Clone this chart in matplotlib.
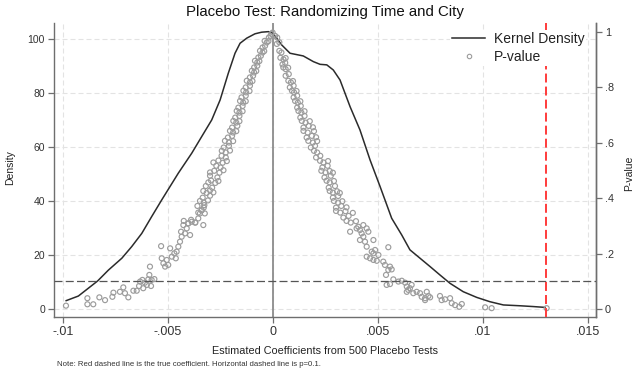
import numpy as np
import matplotlib.pyplot as plt
from matplotlib.lines import Line2D

plt.rcParams['font.family'] = ['Liberation Sans', 'DejaVu Sans']

# kernel density of the placebo coefficients
kd_x = [-0.00985, -0.00927, -0.00835, -0.00784, -0.00720, -0.00673, -0.00625,
        -0.00578, -0.00530, -0.00451, -0.00387, -0.00340, -0.00292, -0.00252,
        -0.00213, -0.00181, -0.00157, -0.00125, -0.00086, -0.00054, -0.00022,
        0.0, 0.00041, 0.00081, 0.00144, 0.00192, 0.00224, 0.00256, 0.00287,
        0.00319, 0.00367, 0.00414, 0.00462, 0.00510, 0.00565, 0.00613,
        0.00652, 0.00700, 0.00748, 0.00795, 0.00843, 0.00906, 0.00970,
        0.01033, 0.01097, 0.01176, 0.01240, 0.01295]
kd_y = [3.1, 4.8, 10.4, 14.4, 18.8, 23.1, 28.0,
        34.2, 40.4, 50.3, 57.7, 63.8, 70.0, 77.4,
        87.3, 94.7, 98.4, 100.3, 101.9, 102.5, 102.7,
        102.1, 97.8, 94.7, 93.7, 91.6, 90.6, 90.4, 88.5,
        84.8, 74.9, 66.3, 55.2, 45.3, 33.6, 27.4,
        21.9, 18.8, 15.7, 12.6, 9.5, 6.4, 4.3,
        2.7, 1.5, 1.2, 0.9, 0.6]

# p-values, left tail
ll_x = [-0.00986, -0.00884, -0.00884, -0.00856, -0.00827, -0.00800, -0.00765,
        -0.00760, -0.00729, -0.00713, -0.00705, -0.00689, -0.00665, -0.00649,
        -0.00638, -0.00633, -0.00622, -0.00618, -0.00610, -0.00601, -0.00594,
        -0.00589, -0.00581, -0.00578, -0.00586, -0.00565, -0.00533, -0.00530,
        -0.00522, -0.00514, -0.00506, -0.00499, -0.00490, -0.00482, -0.00470,
        -0.00463, -0.00459, -0.00451, -0.00443, -0.00435, -0.00438, -0.00427,
        -0.00419, -0.00411, -0.00403, -0.00395, -0.00387, -0.00371, -0.00356,
        -0.00348, -0.00340, -0.00332, -0.00327]
ll_p = [0.012, 0.039, 0.017, 0.017, 0.042, 0.032, 0.044,
        0.059, 0.062, 0.078, 0.057, 0.042, 0.066, 0.066,
        0.083, 0.099, 0.105, 0.075, 0.095, 0.087, 0.107,
        0.123, 0.083, 0.105, 0.153, 0.108, 0.227, 0.183,
        0.165, 0.153, 0.177, 0.159, 0.219, 0.189, 0.201,
        0.183, 0.207, 0.225, 0.243, 0.261, 0.279, 0.303,
        0.273, 0.291, 0.309, 0.267, 0.315, 0.312, 0.327,
        0.345, 0.357, 0.303, 0.375]

# p-values, left branch near zero
ul_x = [-0.00425, -0.00405, -0.00390, -0.00370, -0.00356, -0.00340, -0.00325,
        -0.00360, -0.00330, -0.00348, -0.00330, -0.00310, -0.00335, -0.00300,
        -0.00332, -0.00316, -0.00300, -0.00284, -0.00320, -0.00290,
        -0.00308, -0.00295, -0.00275, -0.00260, -0.00300, -0.00265,
        -0.00300, -0.00280, -0.00255, -0.00236, -0.00270, -0.00250,
        -0.00284, -0.00260, -0.00240, -0.00220, -0.00245, -0.00225,
        -0.00244, -0.00225, -0.00205, -0.00235, -0.00210,
        -0.00229, -0.00210, -0.00190, -0.00215, -0.00195,
        -0.00205, -0.00190, -0.00175, -0.00195, -0.00170,
        -0.00189, -0.00175, -0.00160, -0.00180, -0.00160,
        -0.00173, -0.00160, -0.00145, -0.00165, -0.00145,
        -0.00157, -0.00142, -0.00130, -0.00150, -0.00130,
        -0.00141, -0.00128, -0.00112, -0.00130, -0.00110,
        -0.00125, -0.00110, -0.00098, -0.00110, -0.00095,
        -0.00101, -0.00090, -0.00080, -0.00090, -0.00075,
        -0.00086, -0.00075, -0.00065, -0.00070, -0.00058,
        -0.00062, -0.00050, -0.00042, -0.00050, -0.00038,
        -0.00040, -0.00030, -0.00022, -0.00020, -0.00012,
        -0.00008, -0.00002]
ul_p = [0.318, 0.309, 0.322, 0.312, 0.348, 0.356, 0.345,
        0.372, 0.366, 0.390, 0.384, 0.392, 0.402, 0.409,
        0.426, 0.419, 0.428, 0.421, 0.444, 0.438,
        0.457, 0.464, 0.455, 0.462, 0.481, 0.475,
        0.493, 0.499, 0.492, 0.501, 0.517, 0.511,
        0.529, 0.536, 0.528, 0.534, 0.553, 0.547,
        0.571, 0.565, 0.572, 0.583, 0.589,
        0.607, 0.601, 0.606, 0.619, 0.625,
        0.643, 0.637, 0.642, 0.655, 0.661,
        0.679, 0.673, 0.678, 0.691, 0.697,
        0.715, 0.709, 0.714, 0.727, 0.733,
        0.751, 0.745, 0.750, 0.764, 0.770,
        0.788, 0.782, 0.787, 0.800, 0.806,
        0.824, 0.818, 0.823, 0.836, 0.842,
        0.860, 0.854, 0.859, 0.872, 0.878,
        0.896, 0.890, 0.895, 0.908, 0.914,
        0.932, 0.926, 0.931, 0.944, 0.950,
        0.968, 0.962, 0.967, 0.980, 0.986,
        0.993, 0.998]

# p-values, right branch near zero
ur_x = [0.00010, 0.00020, 0.00018, 0.00030, 0.00030, 0.00040,
        0.00035, 0.00050, 0.00060, 0.00045, 0.00058,
        0.00049, 0.00060, 0.00072, 0.00060, 0.00075,
        0.00073, 0.00085, 0.00095, 0.00080, 0.00098,
        0.00090, 0.00100, 0.00112, 0.00098, 0.00115,
        0.00105, 0.00118, 0.00130, 0.00115, 0.00132,
        0.00121, 0.00135, 0.00150, 0.00130, 0.00150,
        0.00137, 0.00155, 0.00175, 0.00145, 0.00170, 0.00190,
        0.00145, 0.00165, 0.00195, 0.00160, 0.00185, 0.00205,
        0.00168, 0.00190, 0.00210, 0.00180, 0.00200,
        0.00195, 0.00210, 0.00205, 0.00225,
        0.00224, 0.00240, 0.00262, 0.00235, 0.00260,
        0.00230, 0.00250, 0.00270, 0.00285, 0.00245, 0.00275,
        0.00255, 0.00270, 0.00290, 0.00265, 0.00295,
        0.00270, 0.00285, 0.00305, 0.00318, 0.00285, 0.00310,
        0.00290, 0.00310, 0.00330, 0.00300, 0.00325, 0.00350,
        0.00300, 0.00320, 0.00345, 0.00380, 0.00335, 0.00360,
        0.00350, 0.00370, 0.00395]
ur_p = [0.986, 0.980, 0.957, 0.963, 0.932, 0.926,
        0.907, 0.901, 0.906, 0.883, 0.889,
        0.872, 0.866, 0.871, 0.842, 0.848,
        0.824, 0.818, 0.823, 0.800, 0.806,
        0.788, 0.782, 0.787, 0.764, 0.770,
        0.751, 0.745, 0.750, 0.727, 0.733,
        0.715, 0.709, 0.714, 0.691, 0.697,
        0.679, 0.673, 0.678, 0.655, 0.661, 0.656,
        0.643, 0.637, 0.642, 0.619, 0.625, 0.620,
        0.607, 0.601, 0.606, 0.583, 0.589,
        0.571, 0.565, 0.547, 0.553,
        0.535, 0.529, 0.534, 0.511, 0.517,
        0.499, 0.493, 0.498, 0.492, 0.475, 0.481,
        0.463, 0.457, 0.462, 0.438, 0.444,
        0.426, 0.420, 0.425, 0.419, 0.402, 0.408,
        0.390, 0.384, 0.389, 0.366, 0.372, 0.367,
        0.354, 0.348, 0.353, 0.347, 0.330, 0.336,
        0.318, 0.312, 0.317]

# p-values, right tail
lr_x = [0.00398, 0.00367, 0.00406, 0.00414, 0.00422, 0.00430, 0.00414, 0.00438,
        0.00446, 0.00454, 0.00446, 0.00430, 0.00478, 0.00470, 0.00486, 0.00446,
        0.00462, 0.00478, 0.00494, 0.00478, 0.00502, 0.00525, 0.00533, 0.00549,
        0.00557, 0.00565, 0.00538, 0.00549, 0.00541, 0.00557, 0.00573, 0.00597,
        0.00613, 0.00629, 0.00637, 0.00644, 0.00652, 0.00660, 0.00637, 0.00668,
        0.00684, 0.00700, 0.00708, 0.00724, 0.00740, 0.00732, 0.00724, 0.00748,
        0.00795, 0.00803, 0.00819, 0.00843, 0.00851, 0.00867, 0.00887, 0.00899,
        0.01010, 0.01041, 0.01303]
lr_p = [0.291, 0.279, 0.297, 0.285, 0.273, 0.261, 0.249, 0.243,
        0.225, 0.279, 0.291, 0.303, 0.249, 0.207, 0.213, 0.189,
        0.183, 0.177, 0.174, 0.201, 0.195, 0.171, 0.159, 0.141,
        0.153, 0.143, 0.123, 0.223, 0.087, 0.090, 0.107, 0.099,
        0.102, 0.095, 0.081, 0.069, 0.075, 0.087, 0.062, 0.057,
        0.062, 0.057, 0.044, 0.039, 0.047, 0.062, 0.032, 0.042,
        0.047, 0.032, 0.035, 0.039, 0.021, 0.014, 0.008, 0.018,
        0.006, 0.003, 0.003]

true_coef = 0.013
p_cut = 0.1

x_ticks = [-0.01, -0.005, 0, 0.005, 0.01, 0.015]
x_labels = ['-.01', '-.005', '0', '.005', '.01', '.015']
dens_ticks = [0, 20, 40, 60, 80, 100]
p_ticks = [0, 0.2, 0.4, 0.6, 0.8, 1]
p_labels = ['0', '.2', '.4', '.6', '.8', '1']

pv_x = ll_x + ul_x + ur_x + lr_x
pv_p = ll_p + ul_p + ur_p + lr_p

W, H = 633, 378
fig = plt.figure(figsize=(W / 100, H / 100), dpi=100)
ax = fig.add_axes([54 / W, 1 - 317 / H, (596 - 54) / W, (317 - 23) / H])
ax2 = ax.twinx()

spine_c = '#6e6e6e'
grey = '#9c9c9c'

ax.grid(True, color='#e3e3e3', lw=0.8, dashes=(4.5, 2.7))
ax.set_axisbelow(True)
ax.axvline(0, color='#8c8c8c', lw=1.3, zorder=1)
ax.plot(kd_x, kd_y, color='#2b2b2b', lw=1.1, zorder=3)

ax2.scatter(pv_x, pv_p, s=13, facecolors='none', edgecolors=grey,
            linewidths=0.85, zorder=2)
ax2.axhline(p_cut, color='#555555', lw=0.9, dashes=(6.4, 2.6), zorder=3)
ax2.axvline(true_coef, color='#ff3b3b', lw=1.4, dashes=(4.6, 2.1), zorder=3)

ax.set_xlim(-0.01043, 0.01538)
ax.set_ylim(-2.96, 105.9)
ax2.set_ylim(-0.0289, 1.0325)

ax.set_xticks(x_ticks)
ax.set_xticklabels(x_labels, fontsize=9, color='#333333')
ax.set_yticks(dens_ticks)
ax.set_yticklabels([str(t) for t in dens_ticks], fontsize=7.5, color='#333333')
ax2.set_yticks(p_ticks)
ax2.set_yticklabels(p_labels, fontsize=7.8, color='#333333')

for a in (ax, ax2):
    a.spines['top'].set_visible(False)
    for s in ('left', 'right', 'bottom'):
        a.spines[s].set_color(spine_c)
        a.spines[s].set_linewidth(1.0)
    a.tick_params(color=spine_c, length=4, width=0.9, pad=2.5)
ax2.spines['left'].set_visible(False)
ax2.spines['bottom'].set_visible(False)

handles = [Line2D([], [], color='#2b2b2b', lw=1.1),
           Line2D([], [], marker='o', ls='none', mfc='none', mec=grey,
                  ms=3.2, mew=0.8)]
leg = ax2.legend(handles, ['Kernel Density', 'P-value'], loc='upper left',
                 bbox_to_anchor=(450 / W, 1 - 30 / H),
                 bbox_transform=fig.transFigure, fontsize=10,
                 frameon=True, facecolor='white', edgecolor='none',
                 framealpha=1, fancybox=False, handlelength=2.4,
                 handletextpad=0.6, labelspacing=0.3, borderpad=0.15,
                 borderaxespad=0)
for t in leg.get_texts():
    t.set_color('#222222')

fig.text(325 / W, 1 - 12 / H, 'Placebo Test: Randomizing Time and City',
         ha='center', va='center', fontsize=10.8, color='#111111')
fig.text(325 / W, 1 - 351 / H, 'Estimated Coefficients from 500 Placebo Tests',
         ha='center', va='center', fontsize=7.8, color='#222222')
fig.text(10 / W, 1 - 168 / H, 'Density', rotation=90,
         ha='center', va='center', fontsize=7.5, color='#222222')
fig.text(629 / W, 1 - 173 / H, 'P-value', rotation=90,
         ha='center', va='center', fontsize=7.5, color='#222222')
fig.text(57 / W, 1 - 365 / H,
         'Note: Red dashed line is the true coefficient. '
         'Horizontal dashed line is p=0.1.',
         ha='left', va='center', fontsize=5.6, color='#333333')

fig.savefig('out.png', dpi=100)
